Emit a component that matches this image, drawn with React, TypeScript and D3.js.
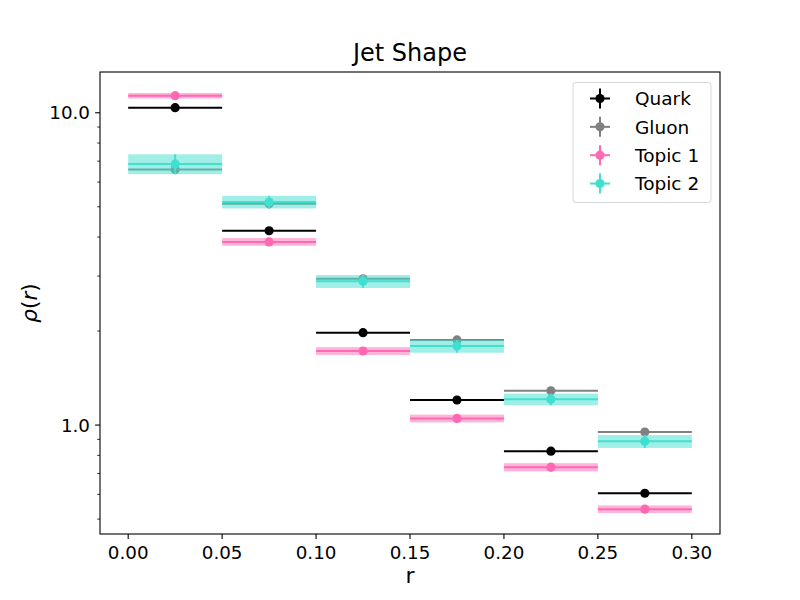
import React, { useEffect, useRef } from 'react';
import * as d3 from 'd3';

// bin edges in r
const binEdges = [0, 0.05, 0.1, 0.15, 0.2, 0.25, 0.3];

// rho(r) per bin
const quark = [10.38, 4.19, 1.976, 1.203, 0.825, 0.605];
const quarkErr = [0.06, 0.03, 0.015, 0.01, 0.008, 0.006];
const gluon = [6.58, 5.11, 2.94, 1.873, 1.288, 0.95];
const gluonErr = [0.05, 0.03, 0.02, 0.012, 0.01, 0.008];
const topic1 = [11.34, 3.86, 1.727, 1.05, 0.733, 0.538];
const topic1Err = [0.23, 0.11, 0.05, 0.03, 0.022, 0.015];
const topic2 = [6.86, 5.18, 2.886, 1.79, 1.209, 0.887];
const topic2Err = [0.5, 0.24, 0.138, 0.085, 0.052, 0.042];

const xTicks = [0, 0.05, 0.1, 0.15, 0.2, 0.25, 0.3];
const yMajorTicks = [1, 10];

interface Series {
  name: string;
  values: number[];
  errors: number[];
  color: string;
  band: boolean;
}

const series: Series[] = [
  { name: 'Quark', values: quark, errors: quarkErr, color: '#000000', band: false },
  { name: 'Gluon', values: gluon, errors: gluonErr, color: '#808080', band: false },
  { name: 'Topic 1', values: topic1, errors: topic1Err, color: '#ff69b4', band: true },
  { name: 'Topic 2', values: topic2, errors: topic2Err, color: '#40e0d0', band: true },
];

const width = 800;
const height = 600;
const margin = { top: 72, right: 80, bottom: 66, left: 100 };
const font = '"DejaVu Sans", sans-serif';

const JetShapeChart: React.FC = () => {
  const svgRef = useRef<SVGSVGElement>(null);

  useEffect(() => {
    if (!svgRef.current) return;
    const svg = d3.select(svgRef.current);
    svg.selectAll('*').remove();

    const x0 = margin.left;
    const x1 = width - margin.right;
    const y0 = margin.top;
    const y1 = height - margin.bottom;

    // matplotlib-like autoscale with 5% margins
    const xMin = d3.min(binEdges)!;
    const xMax = d3.max(binEdges)!;
    const xPad = (xMax - xMin) * 0.05;
    const xScale = d3.scaleLinear().domain([xMin - xPad, xMax + xPad]).range([x0, x1]);

    const lows: number[] = [];
    const highs: number[] = [];
    series.forEach(s => s.values.forEach((v, i) => {
      lows.push(v - s.errors[i]);
      highs.push(v + s.errors[i]);
    }));
    const lMin = Math.log10(d3.min(lows)!);
    const lMax = Math.log10(d3.max(highs)!);
    const lPad = (lMax - lMin) * 0.05;
    const yScale = d3.scaleLog()
      .domain([Math.pow(10, lMin - lPad), Math.pow(10, lMax + lPad)])
      .range([y1, y0]);

    const plot = svg.append('g');

    // series
    series.forEach(s => {
      const g = plot.append('g');
      s.values.forEach((v, i) => {
        const lo = binEdges[i];
        const hi = binEdges[i + 1];
        const mid = (lo + hi) / 2;
        const err = s.errors[i];
        if (s.band) {
          g.append('rect')
            .attr('x', xScale(lo))
            .attr('y', yScale(v + err))
            .attr('width', xScale(hi) - xScale(lo))
            .attr('height', yScale(v - err) - yScale(v + err))
            .attr('fill', s.color)
            .attr('opacity', 0.5);
        }
        g.append('line')
          .attr('x1', xScale(lo)).attr('x2', xScale(hi))
          .attr('y1', yScale(v)).attr('y2', yScale(v))
          .attr('stroke', s.color).attr('stroke-width', 2);
        g.append('line')
          .attr('x1', xScale(mid)).attr('x2', xScale(mid))
          .attr('y1', yScale(v - err)).attr('y2', yScale(v + err))
          .attr('stroke', s.color).attr('stroke-width', 2);
        g.append('circle')
          .attr('cx', xScale(mid)).attr('cy', yScale(v))
          .attr('r', 4.6)
          .attr('fill', s.color);
      });
    });

    // frame
    svg.append('rect')
      .attr('x', x0).attr('y', y0)
      .attr('width', x1 - x0).attr('height', y1 - y0)
      .attr('fill', 'none').attr('stroke', '#000').attr('stroke-width', 1.1);

    // x axis ticks
    xTicks.forEach(t => {
      svg.append('line')
        .attr('x1', xScale(t)).attr('x2', xScale(t))
        .attr('y1', y1).attr('y2', y1 + 4.9)
        .attr('stroke', '#000').attr('stroke-width', 1.1);
      svg.append('text')
        .attr('x', xScale(t)).attr('y', 559)
        .attr('text-anchor', 'middle')
        .attr('font-family', font).attr('font-size', 18.3)
        .attr('fill', '#000')
        .text(d3.format('.2f')(t));
    });

    // y axis ticks (log)
    const [dLo, dHi] = yScale.domain();
    for (let e = Math.floor(Math.log10(dLo)); e <= Math.ceil(Math.log10(dHi)); e++) {
      for (let m = 2; m <= 9; m++) {
        const v = m * Math.pow(10, e);
        if (v < dLo || v > dHi) continue;
        svg.append('line')
          .attr('x1', x0 - 2.8).attr('x2', x0)
          .attr('y1', yScale(v)).attr('y2', yScale(v))
          .attr('stroke', '#000').attr('stroke-width', 0.8);
      }
    }
    yMajorTicks.forEach(t => {
      svg.append('line')
        .attr('x1', x0 - 4.9).attr('x2', x0)
        .attr('y1', yScale(t)).attr('y2', yScale(t))
        .attr('stroke', '#000').attr('stroke-width', 1.1);
      svg.append('text')
        .attr('x', x0 - 10).attr('y', yScale(t))
        .attr('dy', '0.36em')
        .attr('text-anchor', 'end')
        .attr('font-family', font).attr('font-size', 18.3)
        .attr('fill', '#000')
        .text(d3.format('.1f')(t));
    });

    // labels
    svg.append('text')
      .attr('x', (x0 + x1) / 2).attr('y', 61)
      .attr('text-anchor', 'middle')
      .attr('font-family', font).attr('font-size', 24)
      .text('Jet Shape');

    svg.append('text')
      .attr('x', (x0 + x1) / 2).attr('y', 583)
      .attr('text-anchor', 'middle')
      .attr('font-family', font).attr('font-size', 22)
      .text('r');

    const yl = svg.append('text')
      .attr('transform', `translate(37,${(y0 + y1) / 2}) rotate(-90)`)
      .attr('text-anchor', 'middle')
      .attr('font-family', font).attr('font-size', 21.5);
    yl.append('tspan').attr('font-style', 'italic').text('ρ');
    yl.append('tspan').text('(');
    yl.append('tspan').attr('font-style', 'italic').text('r');
    yl.append('tspan').text(')');

    // legend
    const legend = svg.append('g').attr('transform', 'translate(573,82.5)');
    legend.append('rect')
      .attr('width', 138).attr('height', 120)
      .attr('rx', 3).attr('ry', 3)
      .attr('fill', '#fff').attr('fill-opacity', 0.8)
      .attr('stroke', '#d6d6d6').attr('stroke-width', 1);
    series.forEach((s, i) => {
      const cy = 16 + i * 28.35;
      const item = legend.append('g');
      item.append('line')
        .attr('x1', 17).attr('x2', 37).attr('y1', cy).attr('y2', cy)
        .attr('stroke', s.color).attr('stroke-width', 2);
      item.append('line')
        .attr('x1', 27).attr('x2', 27).attr('y1', cy - 10).attr('y2', cy + 10)
        .attr('stroke', s.color).attr('stroke-width', 2);
      item.append('circle')
        .attr('cx', 27).attr('cy', cy).attr('r', 4.6).attr('fill', s.color);
      item.append('text')
        .attr('x', 62).attr('y', cy).attr('dy', '0.36em')
        .attr('font-family', font).attr('font-size', 18.5)
        .text(s.name);
    });
  }, []);

  return (
    <div style={{ position: 'absolute', left: 0, top: 0 }}>
      <svg ref={svgRef} width={width} height={height} style={{ display: 'block', background: '#fff' }} />
    </div>
  );
};

export default function App() {
  return <JetShapeChart />;
}
